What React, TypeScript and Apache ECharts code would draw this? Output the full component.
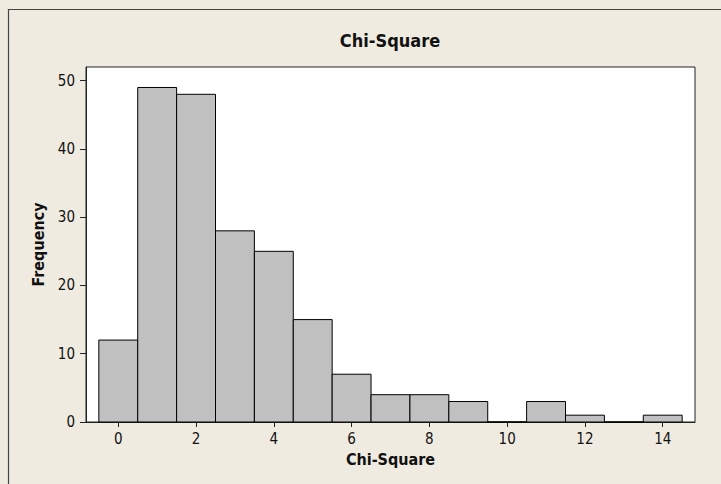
import React, { useEffect, useRef } from "react";
import * as echarts from "echarts";

const binCenters = [0, 1, 2, 3, 4, 5, 6, 7, 8, 9, 10, 11, 12, 13, 14];
const frequencies = [12, 49, 48, 28, 25, 15, 7, 4, 4, 3, 0, 3, 1, 0, 1];
const xTicks = [0, 2, 4, 6, 8, 10, 12, 14];
const yTicks = [0, 10, 20, 30, 40, 50];

const FONT = "'DejaVu Sans Condensed', 'Liberation Sans Narrow', 'DejaVu Sans', sans-serif";

export default function App() {
  const ref = useRef<HTMLDivElement>(null);
  useEffect(() => {
    if (!ref.current) return;
    const chart = echarts.init(ref.current, undefined, { renderer: "svg" });
    const data = binCenters.map((c, i) => [c, frequencies[i]]);
    chart.setOption({
      animation: false,
      backgroundColor: "#f0ebe1",
      textStyle: { fontFamily: FONT },
      title: {
        text: "Chi-Square",
        left: 390,
        top: 31,
        padding: 0,
        textAlign: "center",
        textStyle: { fontFamily: FONT, fontWeight: "bold", fontSize: 18, color: "#111" },
      },
      graphic: [
        {
          type: "rect",
          silent: true,
          z: -10,
          shape: { x: 8.5, y: 9.5, width: 900, height: 700 },
          style: { fill: "none", stroke: "#444", lineWidth: 1.2 },
        },
      ],
      grid: {
        left: 86,
        right: 26,
        top: 67,
        bottom: 62,
        show: true,
        backgroundColor: "#ffffff",
        borderColor: "#222",
        borderWidth: 1,
        containLabel: false,
        outerBoundsMode: "none",
      },
      xAxis: {
        type: "value",
        position: "bottom",
        min: -0.83,
        max: 14.83,
        name: "Chi-Square",
        nameLocation: "middle",
        nameGap: 29,
        nameTextStyle: { fontFamily: FONT, fontWeight: "bold", fontSize: 16, color: "#111" },
        splitLine: { show: false },
        axisLine: { show: true, onZero: false, lineStyle: { color: "#222", width: 1 } },
        axisTick: { show: true, inside: false, length: 5, lineStyle: { color: "#222" }, customValues: xTicks },
        axisLabel: { margin: 9, fontSize: 15, color: "#111", fontFamily: FONT, customValues: xTicks },
      },
      yAxis: {
        type: "value",
        position: "left",
        min: 0,
        max: 52,
        name: "Frequency",
        nameLocation: "middle",
        nameGap: 38,
        nameTextStyle: { fontFamily: FONT, fontWeight: "bold", fontSize: 16, color: "#111" },
        splitLine: { show: false },
        axisLine: { show: true, onZero: false, lineStyle: { color: "#222", width: 1 } },
        axisTick: { show: true, inside: false, length: 6, lineStyle: { color: "#222" }, customValues: yTicks },
        axisLabel: { margin: 11, fontSize: 15, color: "#111", fontFamily: FONT, customValues: yTicks },
      },
      series: [
        {
          type: "custom",
          data,
          renderItem: (params: any, api: any) => {
            const x = api.value(0);
            const y = api.value(1);
            const p0 = api.coord([x - 0.5, y]);
            const p1 = api.coord([x + 0.5, 0]);
            return {
              type: "rect",
              shape: { x: p0[0], y: p0[1], width: p1[0] - p0[0], height: p1[1] - p0[1] },
              style: { fill: "#c0c0c0", stroke: "#000", lineWidth: 1 },
            };
          },
        },
      ],
    });
    return () => chart.dispose();
  }, []);
  return (
    <div
      ref={ref}
      style={{ position: "fixed", left: 0, top: 0, width: 721, height: 484 }}
    />
  );
}
